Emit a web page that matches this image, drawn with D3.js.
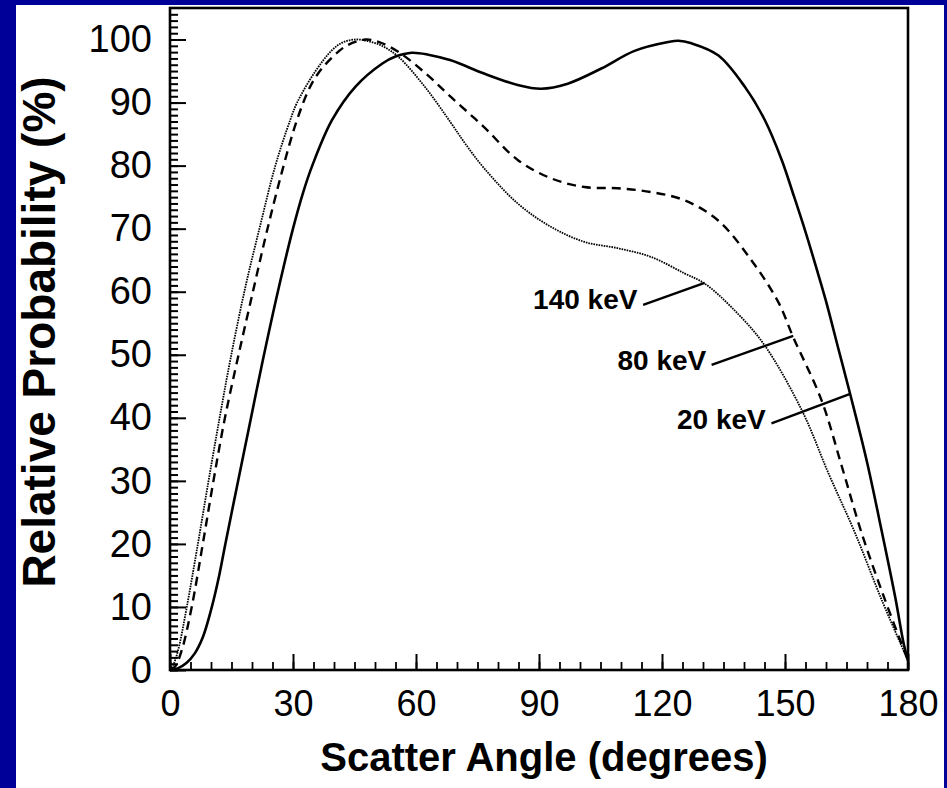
<!DOCTYPE html>
<html>
<head>
<meta charset="utf-8">
<script src="https://cdn.jsdelivr.net/npm/d3@7"></script>
<style>
  html, body { margin: 0; padding: 0; background: #000099; }
  svg { display: block; }
</style>
</head>
<body>
<svg id="chart" width="947" height="788"></svg>
<script>
// [scatter angle (deg), relative probability (%)]
const kev20 = [
  [0, 0], [2, 0.3], [4, 1.1], [6, 2.6], [8, 5.2], [10, 9.5], [12, 15], [13.5, 20],
  [16.3, 29], [19.6, 39.5], [22.6, 49], [26.3, 60], [30, 70], [32.5, 75.8], [34.7, 80],
  [39.5, 87.2], [45.2, 92.5], [51.8, 96.2], [55, 97.3], [59, 97.9], [63, 97.6],
  [68.5, 96.7], [76.6, 94.6], [84.8, 92.8], [90.5, 92.2], [97, 93], [105.2, 95.4],
  [113.3, 98.2], [121.5, 99.6], [124, 99.8], [127.2, 99.4], [133.7, 97.5],
  [140.2, 92.5], [145.1, 87.2], [149.2, 80.9], [152, 75.5], [155, 69.5], [158, 63],
  [160, 58.5], [163, 51], [166, 43.5], [170, 33], [173.6, 22], [176.9, 11.5],
  [179, 4], [180, 1.5]
];
const kev80 = [
  [0, 0], [1.2, 0.5], [2.9, 3.2], [5.3, 10], [8, 20], [10.6, 30], [13.4, 40],
  [16.9, 50.5], [20.4, 60.5], [23.6, 69.5], [27.3, 79], [30.6, 86.5], [33.8, 92],
  [36, 94.5], [38.7, 96.6], [43, 99], [47.7, 100], [51, 99.6], [55.8, 98], [62.4, 94.6],
  [68.5, 90.9], [76.6, 86.1], [84.8, 80.9], [92.9, 78], [101.1, 76.6], [109.2, 76.4],
  [117.4, 75.8], [125.5, 74.5], [133.7, 71.3], [141.8, 65], [148.4, 58.3],
  [152, 52.8], [158.9, 42.8], [163.9, 32.2], [168.7, 21.7], [174.4, 11.1], [180, 1.5]
];
const kev140 = [
  [0, 0], [0.8, 0.8], [2, 3.2], [4.1, 10], [6.8, 20], [9.4, 30], [12.1, 40],
  [14.8, 49.5], [18.3, 60.5], [22, 70.5], [25.7, 80], [29.3, 87.2], [31, 90], [35.5, 95],
  [39.5, 98.3], [42, 99.5], [45, 100], [48, 99.8], [52, 98.9], [55.8, 97.2],
  [62.4, 92.3], [68.5, 86.8], [72.1, 83.4], [76.6, 79.6], [84.8, 74], [92.9, 70.3],
  [101.1, 67.9], [109.2, 66.9], [117.4, 65.5], [125.5, 62.9], [130.4, 61.3],
  [137, 57.5], [144.7, 51.8], [154.1, 41.2], [160.6, 31.2], [167.1, 21.7],
  [173.6, 11.1], [180, 1.5]
];

const seriesNames = ["20 keV", "80 keV", "140 keV"];
const xTicks = [0, 30, 60, 90, 120, 150, 180];
const yTicks = [0, 10, 20, 30, 40, 50, 60, 70, 80, 90, 100];

// label anchor (text end) and leader line end point on its curve
const labelAnchors = [
  { name: "140 keV", text: [114, 57.2], from: [115.4, 57.9], to: [130.4, 61.4] },
  { name: "80 keV",  text: [130.8, 47.6], from: [132.1, 48.4], to: [152, 53] },
  { name: "20 keV",  text: [145.3, 38.3], from: [146.7, 39.1], to: [165.9, 43.8] }
];

const W = 947, H = 788;
const svg = d3.select('#chart');

svg.append('rect').attr('width', W).attr('height', H).attr('fill', '#000099');
svg.append('rect')
  .attr('x', 16).attr('y', 5)
  .attr('width', 928).attr('height', 783)
  .attr('fill', '#ffffff');

const x = d3.scaleLinear().domain([0, 180]).range([170, 908]);
const y = d3.scaleLinear().domain([0, 105]).range([670, 8]);

const font = '"Liberation Sans", Arial, Helvetica, sans-serif';

// minor ticks
svg.append('g')
  .attr('transform', `translate(${x(0)},0)`)
  .call(d3.axisLeft(y).tickValues(d3.range(0, 105, 1)).tickSize(-8).tickFormat(''))
  .call(g => g.select('.domain').remove())
  .call(g => g.selectAll('line').attr('stroke', '#000').attr('stroke-width', 2));

svg.append('g')
  .attr('transform', `translate(0,${y(0)})`)
  .call(d3.axisBottom(x).tickValues(d3.range(0, 181, 5)).tickSize(-8).tickFormat(''))
  .call(g => g.select('.domain').remove())
  .call(g => g.selectAll('line').attr('stroke', '#000').attr('stroke-width', 1.8));

// major ticks + labels
svg.append('g')
  .attr('transform', `translate(${x(0)},0)`)
  .call(d3.axisLeft(y).tickValues(yTicks).tickSize(-16).tickPadding(18))
  .call(g => g.select('.domain').remove())
  .call(g => g.selectAll('line').attr('stroke', '#000').attr('stroke-width', 2))
  .call(g => g.selectAll('text')
    .attr('font-family', font).attr('font-size', 38).attr('fill', '#000'));

svg.append('g')
  .attr('transform', `translate(0,${y(0)})`)
  .call(d3.axisBottom(x).tickValues(xTicks).tickSize(-16).tickPadding(20))
  .call(g => g.select('.domain').remove())
  .call(g => g.selectAll('line').attr('stroke', '#000').attr('stroke-width', 2))
  .call(g => g.selectAll('text')
    .attr('font-family', font).attr('font-size', 36).attr('fill', '#000'));

// frame
svg.append('rect')
  .attr('x', x(0)).attr('y', y(105))
  .attr('width', x(180) - x(0)).attr('height', y(0) - y(105))
  .attr('fill', 'none').attr('stroke', '#000').attr('stroke-width', 2.6);

// curves
const line = d3.line()
  .x(d => x(d[0]))
  .y(d => y(d[1]))
  .curve(d3.curveCatmullRom.alpha(0.5));

const styles = [
  { data: kev20,  width: 2.6, dash: null },
  { data: kev80,  width: 2.4, dash: '9,6' },
  { data: kev140, width: 1.8, dash: '1.6,1' }
];

styles.forEach(s => {
  svg.append('path')
    .datum(s.data)
    .attr('fill', 'none')
    .attr('stroke', '#000')
    .attr('stroke-width', s.width)
    .attr('stroke-dasharray', s.dash)
    .attr('d', line);
});

// labels with leader lines
labelAnchors.forEach(a => {
  svg.append('line')
    .attr('x1', x(a.from[0])).attr('y1', y(a.from[1]))
    .attr('x2', x(a.to[0])).attr('y2', y(a.to[1]))
    .attr('stroke', '#000').attr('stroke-width', 2.4);
  svg.append('text')
    .attr('x', x(a.text[0])).attr('y', y(a.text[1]))
    .attr('text-anchor', 'end')
    .attr('font-family', font).attr('font-weight', 'bold').attr('font-size', 28)
    .text(a.name);
});

// axis titles
svg.append('text')
  .attr('x', 544).attr('y', 771)
  .attr('text-anchor', 'middle')
  .attr('font-family', font).attr('font-weight', 'bold').attr('font-size', 40)
  .text('Scatter Angle (degrees)');

svg.append('text')
  .attr('transform', 'translate(55,332) rotate(-90)')
  .attr('text-anchor', 'middle')
  .attr('font-family', font).attr('font-weight', 'bold').attr('font-size', 46)
  .text('Relative Probability (%)');
</script>
</body>
</html>
